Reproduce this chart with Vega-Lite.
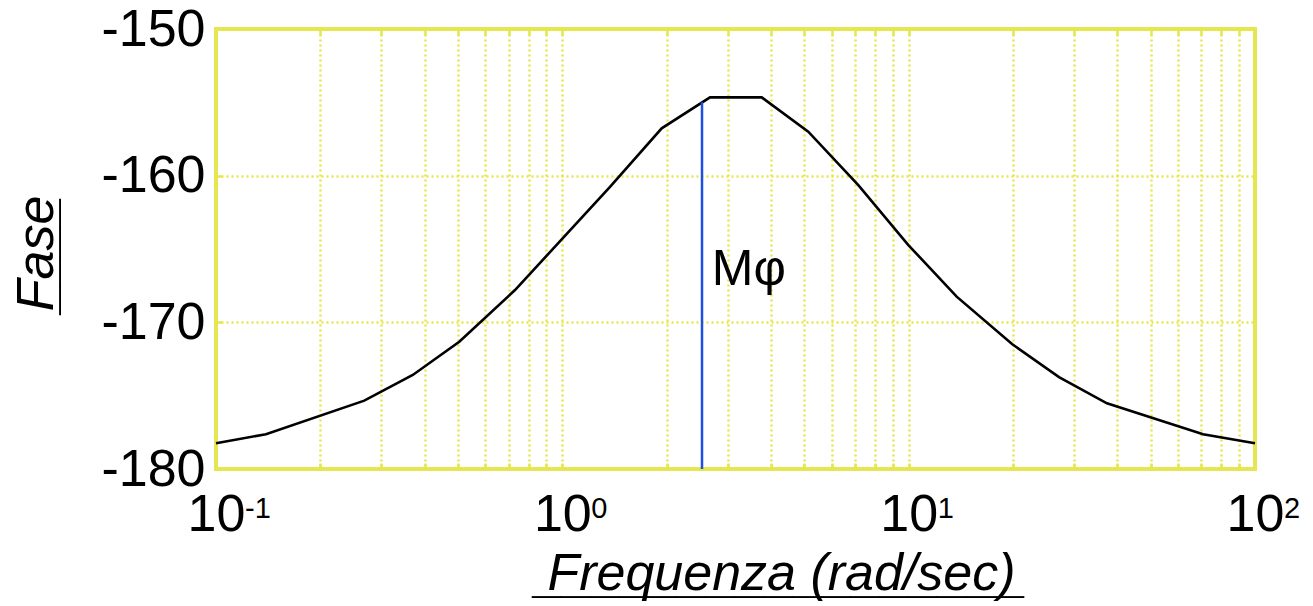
{
  "$schema": "https://vega.github.io/schema/vega-lite/v6.json",
  "width": 1039,
  "height": 440,
  "autosize": {"type": "none"},
  "padding": {"left": 216, "top": 29, "right": 58, "bottom": 137},
  "background": "white",
  "config": {
    "view": {"stroke": "#e6e650", "strokeWidth": 4},
    "font": "Liberation Sans"
  },
  "resolve": {"axis": {"x": "independent"}},
  "datasets": {
    "curve": [
      {"w": 0.1, "phase": -178.25},
      {"w": 0.1394, "phase": -177.63},
      {"w": 0.268, "phase": -175.34},
      {"w": 0.370, "phase": -173.59},
      {"w": 0.504, "phase": -171.32},
      {"w": 0.730, "phase": -167.8},
      {"w": 1.373, "phase": -160.77},
      {"w": 1.936, "phase": -156.77},
      {"w": 2.669, "phase": -154.66},
      {"w": 3.765, "phase": -154.66},
      {"w": 5.13, "phase": -157.0},
      {"w": 7.155, "phase": -160.64},
      {"w": 9.98, "phase": -164.73},
      {"w": 13.76, "phase": -168.25},
      {"w": 19.88, "phase": -171.48},
      {"w": 27.17, "phase": -173.73},
      {"w": 37.37, "phase": -175.52},
      {"w": 70.8, "phase": -177.63},
      {"w": 100, "phase": -178.25}
    ],
    "margin": [
      {"w": 2.531, "lo": -180, "hi": -155.0, "label": "Mφ", "lw": 2.70, "ly": -166.43}
    ],
    "exponents": [
      {"w": 0.1, "phase": -180, "exp": "-1"},
      {"w": 1, "phase": -180, "exp": "0"},
      {"w": 10, "phase": -180, "exp": "1"},
      {"w": 100, "phase": -180, "exp": "2"}
    ]
  },
  "layer": [
    {
      "data": {"name": "curve"},
      "mark": {"type": "line", "color": "#000000", "strokeWidth": 2.6},
      "encoding": {
        "x": {
          "field": "w",
          "type": "quantitative",
          "scale": {"type": "log", "domain": [0.1, 100], "nice": false},
          "axis": {
            "values": [0.1, 0.2, 0.3, 0.4, 0.5, 0.6, 0.7, 0.8, 0.9, 1, 2, 3, 4, 5, 6, 7, 8, 9, 10, 20, 30, 40, 50, 60, 70, 80, 90, 100],
            "labelExpr": "(datum.value == 0.1 || datum.value == 1 || datum.value == 10 || datum.value == 100) ? '10' : ''",
            "labelOverlap": false,
            "labelFlush": false,
            "labelFontSize": 52,
            "labelColor": "#000000",
            "labelPadding": 26,
            "ticks": true,
            "tickSize": -6,
            "tickColor": "#e6e650",
            "tickWidth": 2.5,
            "domain": false,
            "grid": true,
            "gridColor": "#e6e650",
            "gridDash": [2, 3],
            "gridWidth": 2.5,
            "gridOpacity": 1,
            "title": ["Frequenza (rad/sec)", "_________________"],
            "titleFontSize": 52,
            "titleFontStyle": "italic",
            "titleFontWeight": "normal",
            "titleColor": "#000000",
            "titleLineHeight": 2,
            "titleX": 565,
            "titleY": 120,
            "titleBaseline": "alphabetic",
            "titleAlign": "center"
          }
        },
        "y": {
          "field": "phase",
          "type": "quantitative",
          "scale": {"domain": [-180, -150], "nice": false, "zero": false},
          "axis": {
            "values": [-180, -170, -160, -150],
            "labelExpr": "toString(datum.value)",
            "labelFontSize": 52,
            "labelColor": "#000000",
            "labelPadding": 17,
            "ticks": true,
            "tickSize": -6,
            "tickColor": "#e6e650",
            "tickWidth": 2.5,
            "domain": false,
            "grid": true,
            "gridColor": "#e6e650",
            "gridDash": [2, 3],
            "gridWidth": 2.5,
            "gridOpacity": 1,
            "labelFlush": false,
            "labelOverlap": false,
            "title": ["Fase", "____"],
            "titleFontSize": 52,
            "titleFontStyle": "italic",
            "titleFontWeight": "normal",
            "titleColor": "#000000",
            "titleLineHeight": 2,
            "titleX": -164,
            "titleY": 224,
            "titleAngle": 270,
            "titleBaseline": "alphabetic",
            "titleAlign": "center"
          }
        }
      }
    },
    {
      "data": {"name": "margin"},
      "mark": {"type": "rule", "color": "#1f4fe0", "strokeWidth": 2.5},
      "encoding": {
        "x": {
          "field": "w",
          "type": "quantitative",
          "axis": {
            "orient": "top",
            "values": [0.2, 0.3, 0.4, 0.5, 0.6, 0.7, 0.8, 0.9, 1, 2, 3, 4, 5, 6, 7, 8, 9, 10, 20, 30, 40, 50, 60, 70, 80, 90],
            "labels": false,
            "grid": false,
            "domain": false,
            "ticks": true,
            "tickSize": -6,
            "tickColor": "#e6e650",
            "tickWidth": 2.5,
            "title": null
          }
        },
        "y": {"field": "lo", "type": "quantitative"},
        "y2": {"field": "hi"}
      }
    },
    {
      "data": {"name": "margin"},
      "mark": {"type": "text", "fontSize": 50, "align": "left", "baseline": "middle", "color": "#000000"},
      "encoding": {
        "x": {"field": "lw", "type": "quantitative", "axis": null},
        "y": {"field": "ly", "type": "quantitative"},
        "text": {"field": "label"}
      }
    },
    {
      "data": {"name": "exponents"},
      "mark": {"type": "text", "fontSize": 29, "align": "left", "baseline": "alphabetic", "color": "#000000", "dx": 29, "dy": 49},
      "encoding": {
        "x": {"field": "w", "type": "quantitative", "axis": null},
        "y": {"field": "phase", "type": "quantitative"},
        "text": {"field": "exp"}
      }
    }
  ]
}
